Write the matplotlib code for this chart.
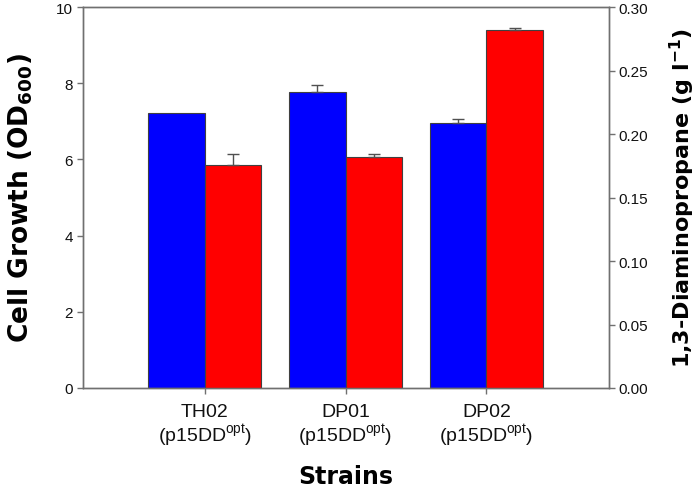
import numpy as np
import matplotlib
matplotlib.use('Agg')
import matplotlib.pyplot as plt
from matplotlib.ticker import FormatStrFormatter

plt.rcParams['font.family'] = 'Liberation Sans'
plt.rcParams['mathtext.fontset'] = 'custom'
plt.rcParams['mathtext.rm'] = 'Liberation Sans'
plt.rcParams['mathtext.bf'] = 'DejaVu Sans:bold'

# 데이터
strains = ['TH02', 'DP01', 'DP02']
growth = [7.21, 7.78, 6.96]          # OD600
growth_err = [0.0, 0.18, 0.105]
dap = [0.1753, 0.1818, 0.282]        # g/l
dap_err = [0.0087, 0.0026, 0.0011]

spine_col = '#707070'
edge_col = '#404040'
err_col = '#505050'

fig = plt.figure(figsize=(7, 4.89), dpi=100)
ax1 = fig.add_axes([0.118, 0.2045, 0.752, 0.7791])
ax2 = ax1.twinx()

x = np.arange(1, len(strains) + 1)
w = 0.4

ax1.bar(x - w / 2, growth, w, color='#0000FF', edgecolor=edge_col, linewidth=0.8)
ax2.bar(x + w / 2, dap, w, color='#FF0000', edgecolor=edge_col, linewidth=0.8)

# 위쪽 오차막대만 (0인 것은 생략)
g, ge = np.array(growth), np.array(growth_err)
d, de = np.array(dap), np.array(dap_err)
m = ge > 0
ax1.errorbar((x - w / 2)[m], g[m], yerr=[np.zeros(m.sum()), ge[m]], fmt='none',
             ecolor=err_col, elinewidth=1, capsize=4, capthick=1)
m = de > 0
ax2.errorbar((x + w / 2)[m], d[m], yerr=[np.zeros(m.sum()), de[m]], fmt='none',
             ecolor=err_col, elinewidth=1, capsize=4, capthick=1)

ax1.set_xlim(0.132, 3.871)
ax1.set_ylim(0, 10)
ax2.set_ylim(0, 0.30)
ax1.set_yticks([0, 2, 4, 6, 8, 10])
ax2.set_yticks(np.arange(0, 0.31, 0.05))
ax2.yaxis.set_major_formatter(FormatStrFormatter('%.2f'))

for ax in (ax1, ax2):
    for sp in ax.spines.values():
        sp.set_color(spine_col)
        sp.set_linewidth(1.0)
    ax.tick_params(direction='out', length=4, width=1, color=spine_col,
                   labelsize=11, labelcolor='#111111')
ax1.tick_params(axis='x', pad=7, labelsize=14)
ax1.tick_params(axis='y', pad=3)
ax2.tick_params(axis='y', pad=3)

ax1.set_xticks(x)
ax1.set_xticklabels([s + '\n(p15DD$^{\\rm opt}$)' for s in strains], linespacing=1.1)

ax1.set_xlabel('Strains', fontsize=17, fontweight='bold', family='DejaVu Sans',
               labelpad=11)
ax1.set_ylabel('Cell Growth (OD$_{\\mathbf{600}}$)', fontsize=19, fontweight='bold',
               family='DejaVu Sans', labelpad=15)
ax2.set_ylabel('1,3-Diaminopropane (g l$^{\\mathbf{-1}}$)', fontsize=16,
               fontweight='bold', family='DejaVu Sans', labelpad=14)

fig.savefig('out.png', dpi=100)
